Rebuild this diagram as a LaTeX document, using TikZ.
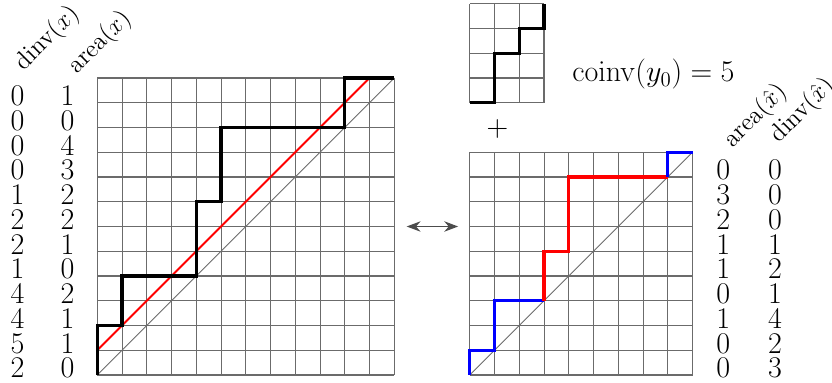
\documentclass[tikz,border=0pt]{standalone}
\definecolor{GridGray}{gray}{0.42}
\definecolor{ArrowGray}{gray}{0.3}
\usepackage{amsmath}
\usepackage{tikz}
\usetikzlibrary{arrows.meta}
\DeclareMathOperator{\dinv}{dinv}
\DeclareMathOperator{\area}{area}
\DeclareMathOperator{\coinv}{coinv}

\begin{document}
\begin{tikzpicture}[x=0.5cm, y=0.5cm, font=\fontsize{16.5}{20}\selectfont,
  gridline/.style={GridGray, line width=0.6pt},
  diagline/.style={GridGray, line width=0.5pt},
  dyckpath/.style={line width=1.8pt},
  numlbl/.style={inner sep=0pt},
  colhead/.style={rotate=45, inner sep=0pt, font=\Large}]
\useasboundingbox (-3.931,-0.283) rectangle (29.685,15.152);
% left path x
\draw[gridline, step=0.5cm] (0,0) grid (12,12);
\draw[diagline] (0,0) -- (12,12);
\draw[red, line width=1.1pt] (0,1) -- (11,12);
\draw[dyckpath] (0,0) |- (1,2) |- (4,4) |- (5,7) |- (10,10) |- (12,12);
\node[colhead] (dinvx) at (-2.02,13.6) {$\dinv(x)$};
\node[colhead] (areax) at (0.1,13.43) {$\area(x)$};
\foreach \d/\a [count=\i] in {0/1,0/0,0/4,0/3,1/2,2/2,2/1,1/0,4/2,4/1,5/1,2/0}{
  \node[numlbl] (dl\i) at (-3.22,12.28-\i) {$\d$};
  \node[numlbl] (al\i) at (-1.2,12.28-\i) {$\a$};
}
% bijection arrow
\coordinate (arrL) at (12.5,6);
\coordinate (arrR) at (14.58,6);
\draw[ArrowGray, line width=0.7pt, {Stealth[length=8pt,width=6pt]}-{Stealth[length=8pt,width=6pt]}] (arrL) -- (arrR);
% small path y_0
\begin{scope}[shift={(15.05,11)}]
\draw[gridline, step=0.5cm] (0,0) grid (3,4);
\draw[dyckpath] (0,0) -| (1,2) -| (2,3) -| (3,4);
\end{scope}
\node[anchor=base west] (coinv) at (18.95,11.85) {$\coinv(y_0) = 5$};
\node (plus) at (16.17,9.94) {\LARGE$+$};
% right path xhat
\begin{scope}[shift={(15.05,0)}]
\draw[gridline, step=0.5cm] (0,0) grid (9,9);
\draw[diagline] (0,0) -- (9,9);
\draw[dyckpath, blue] (0,0) |- (1,1) |- (3,3);
\draw[dyckpath, red] (3,3) |- (4,5) |- (8,8);
\draw[dyckpath, blue] (8,8) |- (9,9);
\end{scope}
\node[colhead] (areaxh) at (26.59,10.46) {$\area(\hat{x})$};
\node[colhead] (dinvxh) at (28.49,10.67) {$\dinv(\hat{x})$};
\foreach \a/\d [count=\i] in {0/0,3/0,2/0,1/1,1/2,0/1,1/4,0/2,0/3}{
  \node[numlbl] (ar\i) at (25.29,9.28-\i) {$\a$};
  \node[numlbl] (dr\i) at (27.38,9.28-\i) {$\d$};
}
\end{tikzpicture}
\end{document}
